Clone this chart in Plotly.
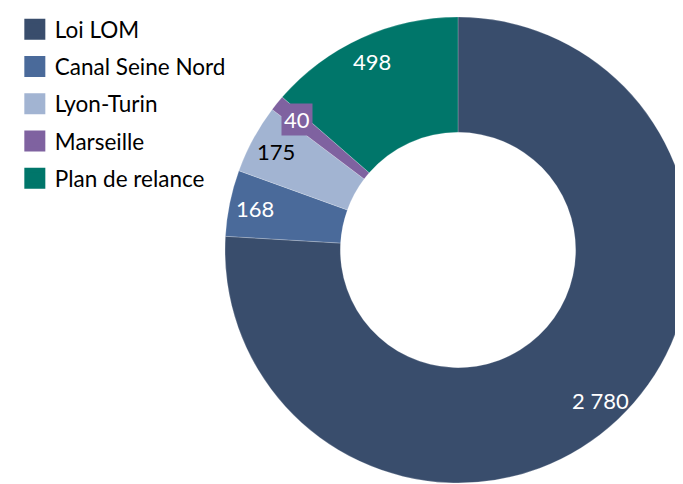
import numpy as np
import plotly.graph_objects as go

categories = ["Loi LOM", "Canal Seine Nord", "Lyon-Turin", "Marseille", "Plan de relance"]
values = [2780, 168, 175, 40, 498]
colors = ["#394D6C", "#4A6A9A", "#A2B4D2", "#7F62A0", "#00766A"]
label_colors = ["white", "white", "black", "white", "white"]

W, H = 683, 484
dom_x = [0.3177, 1.0]
dom_y = [0.0186, 0.9814]
FONT = "Lato, 'Open Sans', sans-serif"

fig = go.Figure()

fig.add_trace(go.Pie(
    labels=categories, values=values, sort=False, direction="clockwise", rotation=0,
    hole=0.505, marker=dict(colors=colors, line=dict(width=0.6, color="rgba(255,255,255,0.35)")),
    textinfo="none", hoverinfo="label+value", showlegend=False,
    domain=dict(x=dom_x, y=dom_y),
))

# value labels placed near the outer edge of each slice, from the data
wpx = (dom_x[1] - dom_x[0]) * W
hpx = (dom_y[1] - dom_y[0]) * H
rpx = min(wpx, hpx) / 2
cx = (dom_x[0] + dom_x[1]) / 2
cy = (dom_y[0] + dom_y[1]) / 2
cum = np.cumsum(values)
tot = cum[-1]
for i, v in enumerate(values):
    small = v / tot < 0.02
    frac = (cum[i] - v / 2) / tot
    th = 2 * np.pi * frac
    r = 0.89 * rpx
    fig.add_annotation(
        x=cx + r * np.sin(th) / W, y=cy + r * np.cos(th) / H,
        xref="paper", yref="paper", xanchor="center", yanchor="middle",
        text=f"{v:,}".replace(",", " "), showarrow=False,
        font=dict(family=FONT, size=22, color=label_colors[i]),
        bgcolor=colors[i] if small else "rgba(0,0,0,0)", borderpad=2,
    )

# legend entries
for name, c in zip(categories, colors):
    fig.add_trace(go.Scatter(
        x=[None], y=[None], mode="markers", name=name, legendgroup=name,
        marker=dict(symbol="square", size=16, color=c, line=dict(width=5, color=c)),
    ))

fig.update_layout(
    width=W, height=H, margin=dict(l=0, r=0, t=0, b=0),
    paper_bgcolor="white", plot_bgcolor="white",
    xaxis=dict(visible=False), yaxis=dict(visible=False),
    showlegend=True,
    legend=dict(x=0.01, y=1.0, xanchor="left", yanchor="top",
                font=dict(family=FONT, size=22.5, color="black"),
                tracegroupgap=5, itemsizing="trace", bgcolor="rgba(0,0,0,0)"),
)

fig.write_html("out.html")
